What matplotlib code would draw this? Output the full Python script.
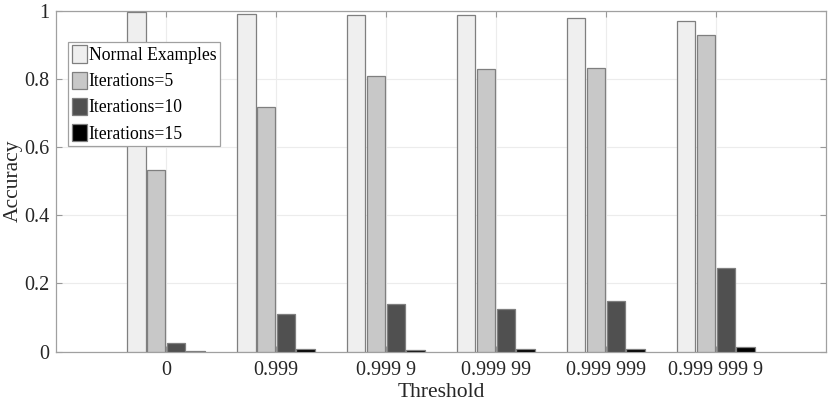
import matplotlib.pyplot as plt
import numpy as np

# Data
thresholds = ["0", "0.999", "0.999 9", "0.999 99", "0.999 999", "0.999 999 9"]
series_names = ["Normal Examples", "Iterations=5", "Iterations=10", "Iterations=15"]
normal = [0.996, 0.991, 0.988, 0.988, 0.978, 0.970]
iter5 = [0.533, 0.719, 0.810, 0.830, 0.832, 0.929]
iter10 = [0.026, 0.111, 0.139, 0.125, 0.148, 0.245]
iter15 = [0.001, 0.007, 0.004, 0.006, 0.007, 0.013]
colors = ["#efefef", "#c8c8c8", "#505050", "#000000"]

plt.rcParams["font.family"] = ["Liberation Serif", "DejaVu Serif"]

fig = plt.figure(figsize=(8.3, 4.05), dpi=100)
ax = fig.add_axes([0.0675, 0.132, 0.9275, 0.841])

x = np.arange(1, len(thresholds) + 1)
offsets = [-0.27, -0.09, 0.09, 0.27]
width = 0.168
for vals, name, col, off in zip([normal, iter5, iter10, iter15], series_names, colors, offsets):
    ax.bar(x + off, vals, width, color=col, edgecolor="#7f7f7f", linewidth=0.9,
           label=name, zorder=3)

ax.set_xlim(0, 7)
ax.set_ylim(0, 1)
ax.set_xticks(x)
ax.set_xticklabels(thresholds)
ax.set_yticks([0, 0.2, 0.4, 0.6, 0.8, 1])
ax.set_yticklabels(["0", "0.2", "0.4", "0.6", "0.8", "1"])

ax.grid(True, color="#ececec", linewidth=0.8, zorder=0)
ax.tick_params(direction="in", length=4, width=0.8, colors="#999999",
               labelcolor="#262626", labelsize=14.5, top=True, right=True)
ax.tick_params(axis="x", pad=7)
ax.tick_params(axis="y", pad=5)
for s in ax.spines.values():
    s.set_color("#a0a0a0")
    s.set_linewidth(0.9)

ax.set_xlabel("Threshold", fontsize=15.5, color="#262626", labelpad=2)
ax.set_ylabel("Accuracy", fontsize=15.5, color="#262626", labelpad=1)

leg = ax.legend(loc="upper left", bbox_to_anchor=(0.0156, 0.909), borderaxespad=0,
                fontsize=12.7, frameon=True, fancybox=False, edgecolor="#a0a0a0",
                framealpha=1, handlelength=0.85, handleheight=1.15,
                handletextpad=0.12, labelspacing=0.42, borderpad=0.2)
leg.get_frame().set_linewidth(0.9)

plt.savefig("out.png", dpi=100)
